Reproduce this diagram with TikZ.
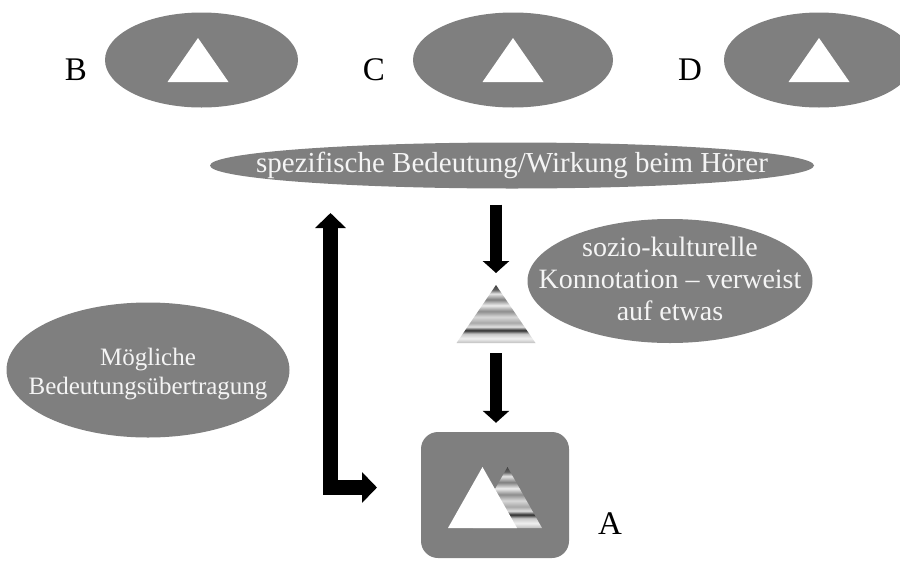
\documentclass[tikz,border=0pt]{standalone}
\usepackage{fontspec}
\setmainfont{Liberation Serif}
\usetikzlibrary{shapes.geometric,arrows.meta}
\definecolor{shapegray}{HTML}{7F7F7F}
\definecolor{lighttext}{HTML}{F4F4F4}
\pgfdeclareverticalshading{chrome}{100bp}{rgb(0bp)=(0.75,0.75,0.75); rgb(25bp)=(0.75,0.75,0.75); rgb(29bp)=(0.94,0.94,0.94); rgb(33bp)=(0.78,0.78,0.78); rgb(36bp)=(0.17,0.17,0.17); rgb(39bp)=(0.88,0.88,0.88); rgb(42.5bp)=(0.66,0.66,0.66); rgb(47.5bp)=(0.85,0.85,0.85); rgb(52.5bp)=(0.55,0.55,0.55); rgb(57.5bp)=(0.93,0.93,0.93); rgb(62.5bp)=(0.5,0.5,0.5); rgb(67.5bp)=(0.9,0.9,0.9); rgb(71bp)=(0.38,0.38,0.38); rgb(75bp)=(0.25,0.25,0.25); rgb(100bp)=(0.25,0.25,0.25)}
\tikzset{
  oval/.style={ellipse, fill=shapegray, draw=none, inner sep=0pt},
  ovaltext/.style={text=lighttext, align=center, inner sep=0pt},
  letter/.style={font=\fontsize{33}{33}\selectfont, inner sep=0pt},
  blk/.style={line width=12pt, draw=black, -{Triangle[width=26pt,length=12pt]}},
  blkL/.style={line width=15pt, draw=black, line join=miter, {Triangle[width=30pt,length=15pt]}-{Triangle[width=30pt,length=15pt]}},
}
\begin{document}
\begin{tikzpicture}[x=1pt,y=-1pt]
\useasboundingbox (0,0) rectangle (900,563);
% top row
\node[oval, minimum width=193pt, minimum height=95pt] (ovB) at (201.5,60) {};
\node[oval, minimum width=200pt, minimum height=95pt] (ovC) at (513,60) {};
\node[oval, minimum width=190pt, minimum height=95pt] (ovD) at (819,60) {};
\fill[white] (198,38) -- (228.5,82) -- (167.5,82) -- cycle;
\fill[white] (513,38) -- (543.5,82) -- (482.5,82) -- cycle;
\fill[white] (819,38) -- (849.5,82) -- (788.5,82) -- cycle;
\node[letter] (lB) at (76,70) {B};
\node[letter] (lC) at (374,70) {C};
\node[letter] (lD) at (690,70) {D};
% specific meaning
\node[oval, minimum width=604pt, minimum height=46pt] (spez) at (512,165.5) {};
\node[ovaltext, font=\fontsize{29}{32}\selectfont] (spezt) at (512,165) {spezifische Bedeutung/Wirkung beim Hörer};
% sozio-cultural
\node[oval, minimum width=285pt, minimum height=124pt] (soz) at (670,281) {};
\node[ovaltext, font=\fontsize{28}{32}\selectfont] (sozt) at (670,279) {sozio-kulturelle\\Konnotation -- verweist\\auf etwas};
% possible transfer
\node[oval, minimum width=283pt, minimum height=135pt] (moeg) at (148,370) {};
\node[ovaltext, font=\fontsize{25}{29}\selectfont] (moegt) at (148,374) {Mögliche\\Bedeutungsübertragung};
% middle striped triangle
\coordinate (tritop) at (496,285);
\coordinate (tribot) at (496,343);
\path[shading=chrome] (tritop) -- (535.5,343) -- (456.5,343) -- cycle;
% box A
\node[fill=shapegray, rounded corners=17pt, minimum width=148pt, minimum height=126pt, inner sep=0pt] (box) at (495,495) {};
\path[shading=chrome] (507.5,467) -- (542,528) -- (473,528) -- cycle;
\fill[white] (482.5,467) -- (517,528) -- (448,528) -- cycle;
\node[letter] (lA) at (610,524) {A};
% arrows
\draw[blk, shorten <=16pt, shorten >=12pt] (spez.south -| tritop) -- (tritop);
\draw[blk, shorten <=10pt, shorten >=9pt] (tribot) -- (box.north -| tribot);
\coordinate (ltop) at (330.5,213);
\coordinate (lend) at (377,487.5);
\draw[blkL] (ltop) |- (lend);
\end{tikzpicture}
\end{document}
